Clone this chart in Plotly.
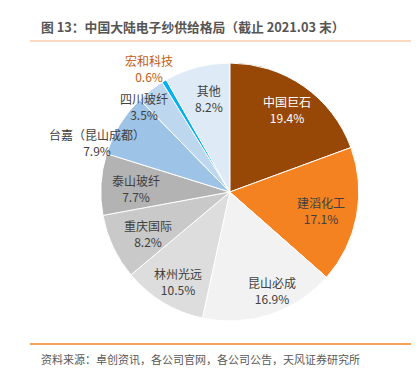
import math
import plotly.graph_objects as go

# ---- data ----
companies = ["中国巨石", "建滔化工", "昆山必成", "林州光远", "重庆国际",
             "泰山玻纤", "台嘉（昆山成都）", "四川玻纤", "宏和科技", "其他"]
shares = [19.4, 17.1, 16.9, 10.5, 8.2, 7.7, 7.9, 3.5, 0.6, 8.2]
title_text = "图 13：中国大陆电子纱供给格局（截止 2021.03 末）"
source_text = "资料来源：卓创资讯，各公司官网，各公司公告，天风证券研究所"

# ---- styles ----
colors = ["#974706", "#F58220", "#F2F2F2", "#DDDDDD", "#C9C9C9",
          "#B3B3B3", "#9DC3E6", "#BDD7EE", "#00B0F0", "#DEEBF7"]
label_colors = ["#FFFFFF", "#404040", "#404040", "#404040", "#404040",
                "#404040", "#404040", "#404040", "#C55A11", "#404040"]
label_radius = [0.78, 0.72, 0.83, 0.80, 0.71, 0.73, 1.10, 0.94, 1.14, 0.74]
label_angle_shift = [0, 1, -5, -1, -1.5, -1, -11, -7, -2.6, 2]

W, H = 419, 376
cx, cy, R = 221.8, 184.0, 129.0

fig = go.Figure(go.Pie(
    labels=companies, values=shares, sort=False, direction="clockwise",
    rotation=0, textinfo="none", hoverinfo="label+percent",
    marker=dict(colors=colors, line=dict(color="#FFFFFF", width=1)),
    domain=dict(x=[(cx - R) / W, (cx + R) / W], y=[1 - (cy + R) / H, 1 - (cy - R) / H]),
    showlegend=False,
))

total = sum(shares)
cum = 0.0
annotations = []
for i, (name, v) in enumerate(zip(companies, shares)):
    mid = (cum + v / 2) / total * 360 + label_angle_shift[i]
    cum += v
    r = R * label_radius[i]
    px = cx + r * math.sin(math.radians(mid))
    py = cy - r * math.cos(math.radians(mid))
    annotations.append(dict(
        x=px / W, y=1 - py / H, xref="paper", yref="paper",
        text=f"{name}<br>{v:.1f}%", showarrow=False,
        font=dict(family="Noto Sans CJK SC", size=12, color=label_colors[i]),
        align="center", xanchor="center", yanchor="middle",
    ))

annotations.append(dict(
    x=31 / W, y=1 - 19 / H, xref="paper", yref="paper", text="<b>" + title_text + "</b>",
    showarrow=False, xanchor="left", yanchor="middle",
    font=dict(family="Noto Sans CJK SC", size=12.8, color="#555555"),
))
annotations.append(dict(
    x=31 / W, y=1 - 351 / H, xref="paper", yref="paper", text=source_text,
    showarrow=False, xanchor="left", yanchor="middle",
    font=dict(family="Noto Sans CJK SC", size=11, color="#595959"),
))

shapes = [
    dict(type="line", xref="paper", yref="paper", x0=22 / W, x1=1,
         y0=1 - 33 / H, y1=1 - 33 / H, line=dict(color="#F8CBAD", width=1.5)),
    dict(type="line", xref="paper", yref="paper", x0=22 / W, x1=1,
         y0=1 - 336 / H, y1=1 - 336 / H, line=dict(color="#F58220", width=1.5)),
]

fig.update_layout(
    width=W, height=H, margin=dict(l=0, r=0, t=0, b=0),
    paper_bgcolor="#FFFFFF", plot_bgcolor="#FFFFFF",
    annotations=annotations, shapes=shapes,
)

fig.write_html("out.html")
